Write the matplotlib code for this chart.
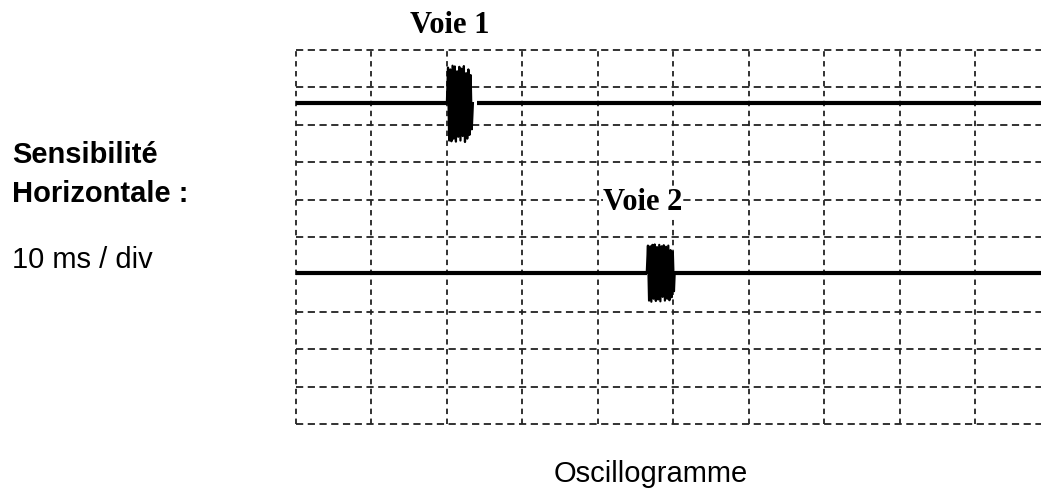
import matplotlib
matplotlib.use("Agg")
import matplotlib.pyplot as plt

# ── data (time in ms, amplitude in divisions) ──
SWEEP_MS = 10          # 10 ms / div
N_XDIV = 10
N_YDIV = 10

voie1_level = 8.58
voie2_level = 4.05

# Voie 1 : trace stops, burst, trace resumes
voie1_before_end = 20.0
voie1_after_start = 24.0
burst1_t = [20.0, 20.15, 20.3, 20.45, 20.6, 20.75, 20.9, 21.05, 21.2, 21.35,
            21.5, 21.65, 21.8, 21.95, 22.1, 22.25, 22.4, 22.55, 22.7, 22.85,
            23.0, 23.15, 23.3, 23.45]
burst1_v = [0.0, 0.95, -1.0, 0.9, -1.02, 1.0, -0.95, 0.98, -1.03, 0.85,
            -0.9, 0.97, -1.0, 0.92, -0.88, 0.99, -1.04, 0.8, -0.95, 0.9,
            -0.85, 0.75, -0.7, 0.0]

# Voie 2
voie2_before_end = 46.5
voie2_after_start = 50.2
burst2_t = [46.5, 46.65, 46.8, 46.95, 47.1, 47.25, 47.4, 47.55, 47.7, 47.85,
            48.0, 48.15, 48.3, 48.45, 48.6, 48.75, 48.9, 49.05, 49.2, 49.35,
            49.5, 49.65, 49.8, 49.95, 50.1, 50.2]
burst2_v = [0.0, 0.72, -0.75, 0.7, -0.78, 0.74, -0.7, 0.75, -0.76, 0.68,
            -0.72, 0.74, -0.77, 0.7, -0.65, 0.73, -0.75, 0.69, -0.7, 0.72,
            -0.74, 0.6, -0.66, 0.55, -0.5, 0.0]

# ─────────────────────────────────────────────
#  figure
# ─────────────────────────────────────────────
W, H = 1041, 488
fig = plt.figure(figsize=(W / 100, H / 100), dpi=100, facecolor="white")

x0, x1 = 296, 1041
y_top, y_bot = 50, 424
div_px = 75.44
ax = fig.add_axes([x0 / W, (H - y_bot) / H, (x1 - x0) / W, (y_bot - y_top) / H])
ax.set_xlim(0, (x1 - x0) / div_px * SWEEP_MS)
ax.set_ylim(0, N_YDIV)
ax.axis("off")

grid_col = "#222222"
for i in range(N_XDIV):
    ax.axvline(i * SWEEP_MS, color=grid_col, lw=1.3, ls=(0, (3, 2.5)),
               clip_on=False, zorder=1)
for j in range(N_YDIV + 1):
    ax.axhline(j, color=grid_col, lw=1.3, ls=(0, (4, 2.5)),
               clip_on=False, zorder=1)

trace_kw = dict(color="black", lw=3.0, solid_capstyle="butt", zorder=3)
xmax = 100

# Voie 1
ax.plot([0, voie1_before_end], [voie1_level] * 2, **trace_kw)
ax.plot([voie1_after_start, xmax], [voie1_level] * 2, **trace_kw)
ax.plot(burst1_t, [voie1_level + v for v in burst1_v], color="black", lw=1.6, zorder=3)

# Voie 2
ax.plot([0, voie2_before_end], [voie2_level] * 2, **trace_kw)
ax.plot([voie2_after_start, xmax], [voie2_level] * 2, **trace_kw)
ax.plot(burst2_t, [voie2_level + v for v in burst2_v], color="black", lw=1.6, zorder=3)

# channel labels
serif = ["Liberation Serif", "DejaVu Serif"]
fig.text(450 / W, (H - 33) / H, "Voie 1", ha="center", va="baseline",
         fontsize=22, fontweight="bold", family=serif)
fig.text(643 / W, (H - 210) / H, "Voie 2", ha="center", va="baseline",
         fontsize=22, fontweight="bold", family=serif, zorder=5,
         bbox=dict(facecolor="white", edgecolor="none", pad=0.5))

# side annotation
sans = ["Liberation Sans", "DejaVu Sans"]
fig.text(12 / W, (H - 163) / H, "Sensibilité", ha="left", va="baseline",
         fontsize=21, fontweight="bold", family=sans)
fig.text(12 / W, (H - 202) / H, "Horizontale :", ha="left", va="baseline",
         fontsize=21, fontweight="bold", family=sans)
fig.text(12 / W, (H - 268) / H, "10 ms / div", ha="left", va="baseline",
         fontsize=21, family=sans)

fig.text(651 / W, (H - 482) / H, "Oscillogramme", ha="center", va="baseline",
         fontsize=21, family=sans)

plt.savefig("out.png", dpi=100, facecolor=fig.get_facecolor())
plt.close()
